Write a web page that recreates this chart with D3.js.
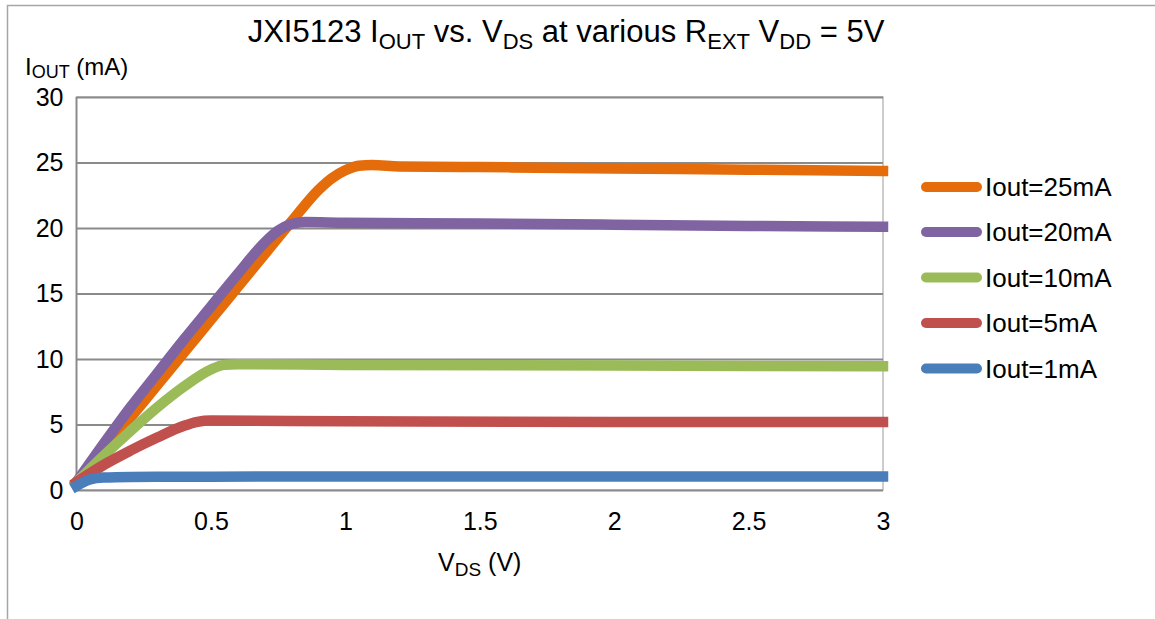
<!DOCTYPE html>
<html>
<head>
<meta charset="utf-8">
<script src="https://cdn.jsdelivr.net/npm/d3@7"></script>
<style>
  html, body { margin: 0; padding: 0; background: #fff; }
  svg { display: block; }
  text { font-family: "Liberation Sans", Arial, sans-serif; fill: #000; }
</style>
</head>
<body>
<svg id="chart" width="1155" height="619"></svg>
<script>
// ---- data ----
const seriesNames = ["Iout=25mA", "Iout=20mA", "Iout=10mA", "Iout=5mA", "Iout=1mA"];
const seriesColors = ["#E46C0A", "#8064A2", "#9BBB59", "#C0504D", "#4A7EBB"];

const vds25 = [0, 0.1, 0.2, 0.3, 0.4, 0.5, 0.6, 0.7, 0.8, 0.9, 0.95, 1.0, 1.05, 1.1, 1.2, 1.5, 2.0, 2.5, 3.0];
const iout25 = [0.6, 3.0, 5.5, 8.0, 10.5, 13.0, 15.5, 18.0, 20.5, 22.9, 23.8, 24.4, 24.75, 24.8, 24.7, 24.65, 24.55, 24.45, 24.35];

const vds20 = [0, 0.1, 0.2, 0.3, 0.4, 0.5, 0.6, 0.7, 0.75, 0.8, 0.85, 1.0, 1.5, 2.0, 2.5, 3.0];
const iout20 = [0.6, 3.5, 6.3, 8.9, 11.5, 14.0, 16.5, 18.9, 19.8, 20.3, 20.45, 20.4, 20.35, 20.25, 20.15, 20.1];

const vds10 = [0, 0.1, 0.2, 0.3, 0.4, 0.5, 0.55, 0.6, 1.0, 2.0, 3.0];
const iout10 = [0.6, 2.6, 4.5, 6.3, 7.9, 9.2, 9.55, 9.6, 9.55, 9.5, 9.45];

const vds5 = [0, 0.1, 0.2, 0.3, 0.4, 0.45, 0.5, 1.0, 2.0, 3.0];
const iout5 = [0.6, 1.9, 3.0, 4.0, 4.9, 5.2, 5.3, 5.25, 5.2, 5.2];

const vds1 = [0, 0.05, 0.1, 0.2, 0.5, 1.0, 2.0, 3.0];
const iout1 = [0.3, 0.8, 0.95, 1.0, 1.02, 1.03, 1.04, 1.04];

const xTicks = [0, 0.5, 1, 1.5, 2, 2.5, 3];
const yTicks = [0, 5, 10, 15, 20, 25, 30];

const seriesX = [vds25, vds20, vds10, vds5, vds1];
const seriesY = [iout25, iout20, iout10, iout5, iout1];

// ---- layout ----
const svg = d3.select("#chart");
const plot = { left: 76.5, right: 883, top: 97, bottom: 490 };
const FONT = "'Liberation Sans', Arial, sans-serif";

const x = d3.scaleLinear().domain([0, 3]).range([plot.left, plot.right]);
const y = d3.scaleLinear().domain([0, 30]).range([plot.bottom, plot.top]);

// outer chart border
svg.append("rect")
  .attr("x", 7.5).attr("y", 5.5)
  .attr("width", 1200).attr("height", 700)
  .attr("fill", "none").attr("stroke", "#a6a6a6").attr("stroke-width", 1.5);

// plot area border
svg.append("rect")
  .attr("x", plot.left).attr("y", plot.top)
  .attr("width", plot.right - plot.left).attr("height", plot.bottom - plot.top)
  .attr("fill", "none").attr("stroke", "#bcbcbc").attr("stroke-width", 1.5);

// gridlines
svg.append("g")
  .attr("transform", `translate(${plot.left},0)`)
  .call(d3.axisLeft(y).tickValues(yTicks).tickSize(-(plot.right - plot.left)).tickFormat(""))
  .call(g => g.select(".domain").remove())
  .call(g => g.selectAll("line").attr("stroke", "#8a8a8a").attr("stroke-width", 1.8));

// left axis line
svg.append("line")
  .attr("x1", plot.left).attr("x2", plot.left)
  .attr("y1", plot.top).attr("y2", plot.bottom)
  .attr("stroke", "#8a8a8a").attr("stroke-width", 1.8);

// y tick labels
svg.append("g")
  .attr("transform", `translate(${plot.left},0)`)
  .call(d3.axisLeft(y).tickValues(yTicks).tickSize(0).tickPadding(13).tickFormat(d3.format("d")))
  .call(g => g.select(".domain").remove())
  .call(g => g.selectAll("text").style("font-size", "25px").style("font-family", FONT).attr("fill", "#000"));

// x tick labels
svg.append("g")
  .attr("transform", `translate(0,${plot.bottom})`)
  .call(d3.axisBottom(x).tickValues(xTicks).tickSize(0).tickPadding(22).tickFormat(d => d3.format("")(d)))
  .call(g => g.select(".domain").remove())
  .call(g => g.selectAll("text").style("font-size", "25px").style("font-family", FONT).attr("fill", "#000"));

// series lines
const line = d3.line().curve(d3.curveMonotoneX);
seriesNames.forEach((name, i) => {
  const pts = seriesX[i].map((v, j) => [x(v), y(seriesY[i][j])]);
  svg.append("path")
    .attr("d", line(pts))
    .attr("fill", "none")
    .attr("stroke", seriesColors[i])
    .attr("stroke-width", 10.5)
    .attr("stroke-linecap", "square")
    .attr("stroke-linejoin", "round");
});

// title
const title = svg.append("text")
  .attr("x", 566).attr("y", 42)
  .attr("text-anchor", "middle")
  .style("font-size", "31px");
const SUB = "22px";
title.append("tspan").text("JXI5123 I");
title.append("tspan").attr("dy", 7).style("font-size", SUB).text("OUT");
title.append("tspan").attr("dy", -7).text(" vs. V");
title.append("tspan").attr("dy", 7).style("font-size", SUB).text("DS");
title.append("tspan").attr("dy", -7).text(" at various R");
title.append("tspan").attr("dy", 7).style("font-size", SUB).text("EXT");
title.append("tspan").attr("dy", -7).text(" V");
title.append("tspan").attr("dy", 7).style("font-size", SUB).text("DD");
title.append("tspan").attr("dy", -7).text(" = 5V");

// y axis title
const yt = svg.append("text").attr("x", 25).attr("y", 75).style("font-size", "24px");
yt.append("tspan").text("I");
yt.append("tspan").attr("dy", 3).style("font-size", "18px").text("OUT");
yt.append("tspan").attr("dy", -3).text(" (mA)");

// x axis title
const xt = svg.append("text").attr("x", (plot.left + plot.right) / 2).attr("y", 571)
  .attr("text-anchor", "middle").style("font-size", "25px");
xt.append("tspan").text("V");
xt.append("tspan").attr("dy", 5).style("font-size", "19px").text("DS");
xt.append("tspan").attr("dy", -5).text(" (V)");

// legend
const legY = [187, 232, 277.5, 323, 368.5];
const leg = svg.append("g");
seriesNames.forEach((name, i) => {
  leg.append("line")
    .attr("x1", 926).attr("x2", 977)
    .attr("y1", legY[i]).attr("y2", legY[i])
    .attr("stroke", seriesColors[i]).attr("stroke-width", 10)
    .attr("stroke-linecap", "round");
  leg.append("text")
    .attr("x", 985).attr("y", legY[i] + 9)
    .style("font-size", "26px")
    .text(name);
});
</script>
</body>
</html>
